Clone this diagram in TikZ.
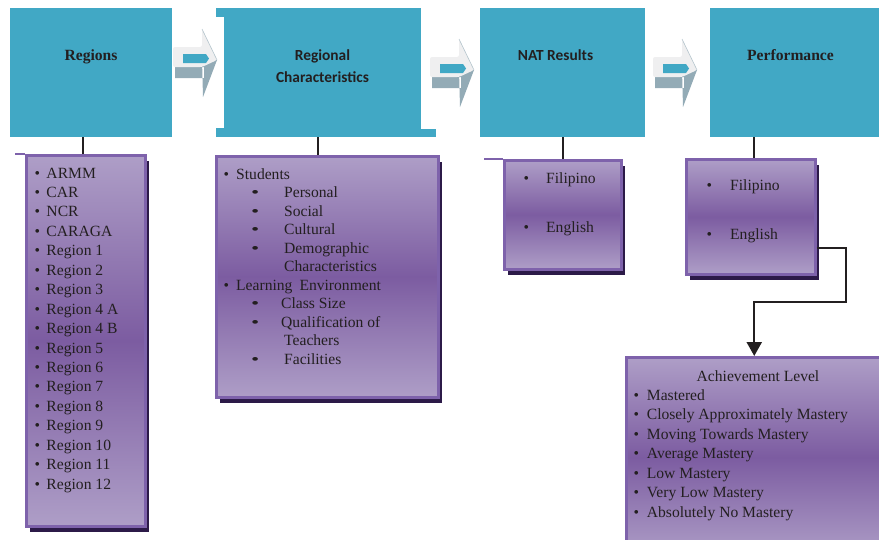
\documentclass[tikz,border=0pt]{standalone}
\usepackage{fontspec}
\setmainfont{Liberation Serif}
\newfontfamily\bodyserif{Liberation Serif}
\newfontfamily\hdsans{Carlito}
\usetikzlibrary{arrows.meta,shadows,calc}
\definecolor{tealbox}{HTML}{41A8C5}
\definecolor{purpbd}{HTML}{7E62AB}
\definecolor{purplt}{HTML}{AE9EC7}
\definecolor{purpdk}{HTML}{7C5CA1}
\definecolor{shadowc}{HTML}{2C1A48}
\definecolor{inkc}{HTML}{231F20}
\definecolor{arrlt}{HTML}{EFEFF0}
\definecolor{arrgr}{HTML}{93ABB6}
\tikzset{
 headbox/.style={fill=tealbox,inner sep=0pt,anchor=north west},
 headtxt/.style={anchor=base,inner sep=0pt,text=inkc,font=\bodyserif\fontsize{15.6}{21.6}\selectfont\bfseries},
 sanstxt/.style={font=\hdsans\fontsize{15.4}{21.6}\selectfont\bfseries},
 listbox/.style={draw=purpbd,line width=2.5pt,top color=purplt,bottom color=purplt,middle color=purpdk,inner sep=0pt,anchor=north west,
  drop shadow={shadow xshift=4pt,shadow yshift=-6pt,fill=shadowc,opacity=1}},
 item/.style={anchor=base west,inner sep=0pt,text=inkc,font=\bodyserif\fontsize{15.6}{19}\selectfont},
 link/.style={draw=inkc,line width=2.2pt},
}
\newcommand\bul[1][12pt]{\makebox[#1][l]{\textbullet}}
\newcommand\wbul[1]{\makebox[#1][l]{\scalebox{1.5}[1]{\textbullet}}}
\newcommand\blockarrow[2]{\begin{scope}[shift={(#1,#2)}]
 \fill[arrgr](-27,38)rectangle(2,49) (0,31)--(15,31)--(1,68)--cycle;
 \fill[arrlt,rounded corners=2pt](-29,18)--(0,18)--(0,0)--(15,31)--(0,38)--(-29,38)--cycle;
 \draw[arrgr!70,line width=.6pt](0,0)--(15,31);
 \fill[tealbox](-19,25)--(4,25)--(7,29.5)--(4,34)--(-19,34)--cycle;
 \end{scope}}
\begin{document}
\begin{tikzpicture}[x=1pt,y=-1pt]
\useasboundingbox (0,0) rectangle (879,539);
\node[headbox,minimum width=162pt,minimum height=129pt](reg)at(10,8){};
\node[headbox,minimum width=205pt,minimum height=129pt](rc)at(216,8){};
\fill[tealbox](rc.south east)rectangle++(15,-8);\fill[white](216,17)rectangle(224,128);
\node[headbox,minimum width=165pt,minimum height=129pt](nat)at(480,8){};
\node[headbox,minimum width=169pt,minimum height=129pt](perf)at(710,8){};
\node[headtxt](regt)at(91,60){Regions};
\node[headtxt,sanstxt,align=center](rct)at(322.5,82.3){Regional\\Characteristics};
\node[headtxt,sanstxt](natt)at(555.5,60){NAT Results};
\node[headtxt](perft)at(790.5,60){Performance};
\blockarrow{202}{29}\blockarrow{459}{39}\blockarrow{682}{39}
\node[listbox,minimum width=119pt,minimum height=371pt](reglist)at(25,154){};
\node[listbox,minimum width=222pt,minimum height=241pt](rclist)at(215,155){};
\node[listbox,minimum width=117pt,minimum height=109pt](natlist)at(503,159){};
\node[listbox,minimum width=129pt,minimum height=115pt](perflist)at(685,158){};
\node[listbox,minimum width=265pt,minimum height=200pt](ach)at(625,356){};
\draw[purpbd,line width=2.5pt](reglist.north west)--++(-10,0) (natlist.north west)--++(-19,0);
\draw[link]([xshift=-3pt]reglist.north)--([xshift=-3pt]reglist.north|-reg.south);
\draw[link]([xshift=-9pt]rclist.north)--([xshift=-9pt]rclist.north|-rc.south);
\draw[link](natlist.north)--(natlist.north|-nat.south);
\draw[link]([xshift=3.5pt]perflist.north)--([xshift=3.5pt]perflist.north|-perf.south);
\coordinate(bend)at(846,302);
\draw[link,-{Triangle[width=15pt,length=14pt]}]([yshift=-31.5pt]perflist.east)-|(bend)-|([xshift=-4.5pt]ach.north);
\foreach\t[count=\i from 0]in{ARMM,CAR,NCR,CARAGA,Region 1,Region 2,Region 3,Region 4 A,Region 4 B,Region 5,Region 6,Region 7,Region 8,Region 9,Region 10,Region 11,Region 12}{\node[item](ri\i)at(34.3,{178+19.45*\i}){\bul\t};}
\node[item](st)at(223.3,179){\bul[12.7pt]Students};\node[item](le)at(223.3,290){\bul[12.7pt]Learning\hskip7pt Environment};
\foreach\t/\w/\y[count=\i]in{Personal/33/197.5,Social/33/216,Cultural/33/234.5,Demographic/33/253,Class Size/30/308.5,Qualification of/30/327,Facilities/33/364}{\node[item](sb\i)at(251,\y){\wbul{\w pt}\t};}
\node[item](dc)at(284,271.5){Characteristics};\node[item](tc)at(284,345.5){Teachers};
\node[item](nf)at(523.3,183.3){\bul[22.7pt]Filipino};\node[item](ne)at(523.3,232.7){\bul[22.7pt]English};
\node[item](pf)at(706.3,190){\bul[23.7pt]Filipino};\node[item](pe)at(706.3,239.3){\bul[23.7pt]English};
\node[item,anchor=base](acht)at(758,381){Achievement Level};
\foreach\t[count=\i from 0]in{Mastered,Closely Approximately Mastery,Moving Towards Mastery,Average Mastery,Low Mastery,Very Low Mastery,Absolutely No Mastery}{\node[item](al\i)at(633.3,{400+19.5*\i}){\bul[13.4pt]\t};}
\end{tikzpicture}
\end{document}
